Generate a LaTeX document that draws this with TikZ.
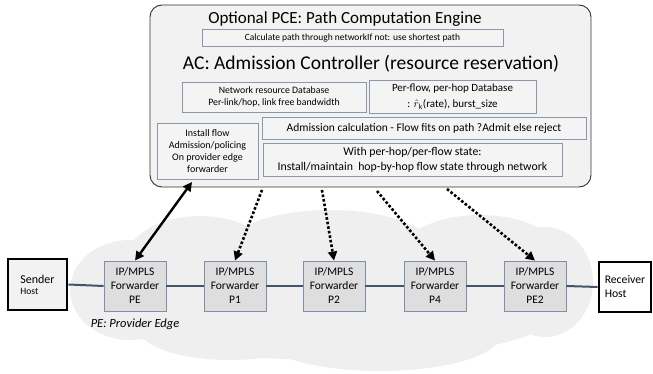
\documentclass[tikz,border=0pt]{standalone}
\usepackage{fontspec}
\setmainfont{Carlito}
\usetikzlibrary{arrows.meta}
\definecolor{outerfill}{HTML}{F2F2F2}
\definecolor{innerfill}{HTML}{F4F4F4}
\definecolor{innerdraw}{HTML}{8A97AA}
\definecolor{fwdfill}{HTML}{DEDEDE}
\definecolor{fwddraw}{HTML}{7F8FA6}
\definecolor{cloudfill}{HTML}{EFEFEF}
\definecolor{linkcol}{HTML}{44546A}
\newcommand{\fs}[2]{\fontsize{#1}{#2}\selectfont}
\begin{document}
\begin{tikzpicture}[x=1pt,y=-1pt,
  outerbox/.style={draw=black!80, line width=0.9pt, fill=outerfill, rounded corners=12pt, inner sep=0pt},
  inbox/.style={draw=innerdraw, line width=0.9pt, fill=innerfill, inner sep=0pt, align=center},
  fwd/.style={draw=fwddraw, line width=0.9pt, fill=fwdfill, minimum width=62pt, minimum height=50pt, inner sep=0pt, align=center, font=\fs{11.5}{14}},
  hostbox/.style={draw=black, line width=2.6pt, inner sep=0pt, align=left},
  link/.style={draw=linkcol, line width=2pt},
  solidarrow/.style={line width=2.4pt, {Triangle[length=9pt,width=9pt]}-{Triangle[length=9pt,width=9pt]}},
  dotarrow/.style={line width=2.6pt, dash pattern=on 2.6pt off 2pt, -{Triangle[length=9pt,width=9pt]}},
]
\useasboundingbox (0,0) rectangle (653,374);
% cloud
\begin{scope}[fill=cloudfill]
\fill (130,290) ellipse [x radius=60, y radius=50];
\fill (200,262) ellipse [x radius=75, y radius=46];
\fill (330,250) ellipse [x radius=105, y radius=40];
\fill (480,255) ellipse [x radius=80, y radius=40];
\fill (545,282) ellipse [x radius=48, y radius=55];
\fill (330,310) ellipse [x radius=230, y radius=50];
\fill (380,335) ellipse [x radius=120, y radius=36];
\fill (230,330) ellipse [x radius=90, y radius=30];
\end{scope}
% outer box
\node[outerbox, minimum width=441pt, minimum height=182pt] (outer) at (370.5,96) {};
\node[font=\fs{17}{20}] (pcetitle) at (345,19) {Optional PCE: Path Computation Engine};
\node[inbox, minimum width=301pt, minimum height=17pt, font=\fs{9.5}{11}] (calc) at (352.5,38) {Calculate path through networkIf not: use shortest path};
\node[font=\fs{19.5}{23}] (actitle) at (371,64) {AC: Admission Controller (resource reservation)};
\node[inbox, minimum width=184pt, minimum height=30pt, font=\fs{9.8}{11.5}] (netdb) at (274,97) {Network resource Database\\Per-link/hop, link free bandwidth};
\node[inbox, minimum width=167pt, minimum height=33pt, font=\fs{11}{16}] (flowdb) at (452.5,96.5) {Per-flow, per-hop Database\\: $\hat{r}$\textsubscript{k}(rate), burst\_size};
\node[inbox, minimum width=101pt, minimum height=56pt, font=\fs{10}{12}] (install) at (207.5,151) {Install flow\\Admission/policing\\On provider edge\\forwarder};
\node[inbox, minimum width=324pt, minimum height=22pt, font=\fs{11.5}{14}] (admcalc) at (424,128) {Admission calculation - Flow fits on path ?Admit else reject};
\node[inbox, minimum width=299pt, minimum height=33pt, font=\fs{11.8}{15}] (perhop) at (412.5,160) {With per-hop/per-flow state:\\Install/maintain\ \ hop-by-hop flow state through network};
% hosts and forwarders
\node[hostbox, fill=outerfill, minimum width=59pt, minimum height=51pt] (sender) at (37.5,284.5) {{\fs{12}{14}Sender}\\[-1pt]{\fs{9.6}{12}Host}};
\node[hostbox, fill=white, minimum width=52pt, minimum height=50pt, font=\fs{11.7}{14}] (receiver) at (625,287) {Receiver\\Host};
\node[fwd] (pe) at (135,286) {IP/MPLS\\Forwarder\\PE};
\node[fwd] (p1) at (235,286) {IP/MPLS\\Forwarder\\P1};
\node[fwd] (p2) at (334,286) {IP/MPLS\\Forwarder\\P2};
\node[fwd] (p4) at (435,286) {IP/MPLS\\Forwarder\\P4};
\node[fwd] (pe2) at (535,286) {IP/MPLS\\Forwarder\\PE2};
% links
\path[link] (sender.east) -- (pe.west);
\path[link] (pe.east) -- (p1.west);
\path[link] (p1.east) -- (p2.west);
\path[link] (p2.east) -- (p4.west);
\path[link] (p4.east) -- (pe2.west);
\path[link] (pe2.east) -- (receiver.west);
\node[font=\itshape\fs{12.5}{15}] (pelabel) at (135,324) {PE: Provider Edge};
% arrows
\coordinate (a0) at (192,182);
\coordinate (d1) at (262,190);
\coordinate (d2) at (322,190);
\coordinate (d3) at (377,191);
\coordinate (d4) at (447,189);
\draw[solidarrow] (a0) -- (pe.north);
\draw[dotarrow] (d1) -- (p1.north);
\draw[dotarrow] (d2) -- (p2.north);
\draw[dotarrow] (d3) -- (p4.north);
\draw[dotarrow] (d4) -- (pe2.north);
\end{tikzpicture}
\end{document}
